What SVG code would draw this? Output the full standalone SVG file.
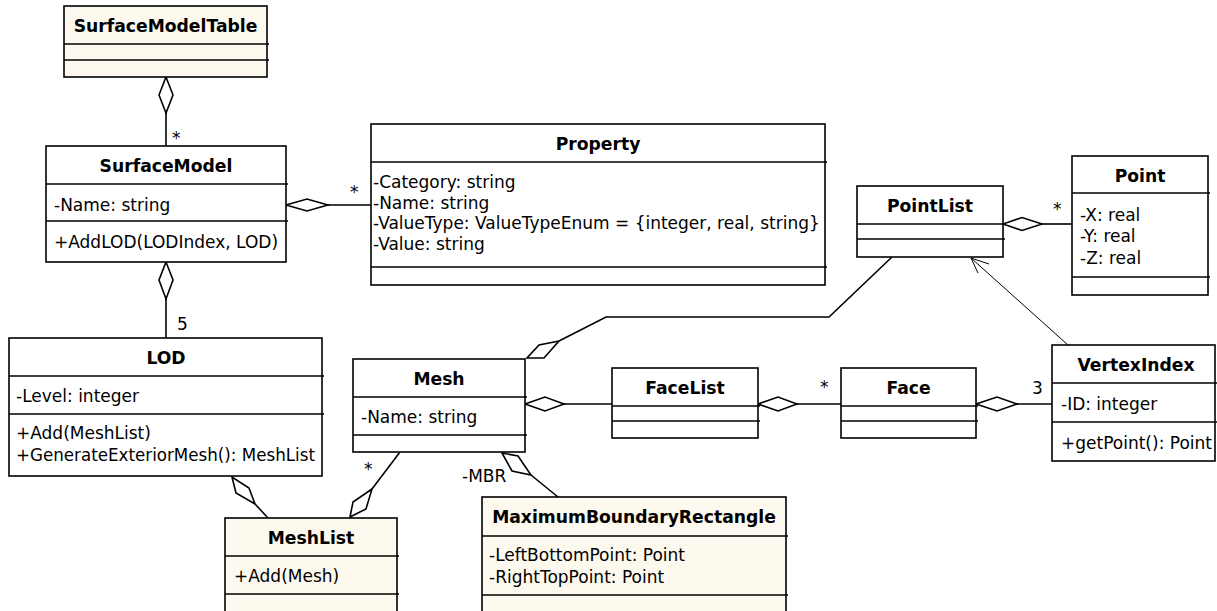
<svg xmlns="http://www.w3.org/2000/svg" width="1217" height="611" viewBox="0 0 1217 611">
<style>
.box{fill:#ffffff;stroke:#000;stroke-width:1.6}
.cream{fill:#fdf9ee}
.div{stroke:#000;stroke-width:1.6}
.t{font-family:"DejaVu Sans",Verdana,sans-serif;font-size:17px;fill:#000}
.b{font-weight:bold;text-anchor:middle;font-size:17.2px}
.ln{fill:none;stroke:#000;stroke-width:1.6}
.dia{fill:#fff;stroke:#000;stroke-width:1.6;stroke-linejoin:miter}
.thin{fill:none;stroke:#000;stroke-width:1}
</style>
<rect width="1217" height="611" fill="#fff"/>
<g id="connectors">
  <line class="ln" x1="166" y1="113" x2="166" y2="146"/>
  <polygon class="dia" points="166,77 173,95 166,113 159,95"/>
  <line class="ln" x1="328" y1="205" x2="371" y2="205"/>
  <polygon class="dia" points="286,205 307,199 328,205 307,211"/>
  <line class="ln" x1="166" y1="299" x2="166" y2="338"/>
  <polygon class="dia" points="166,262 173,280 166,299 159,280"/>
  <line class="ln" x1="1042" y1="224" x2="1072" y2="224"/>
  <polygon class="dia" points="1003,224 1022,217.5 1042,224 1022,230.5"/>
  <line class="ln" x1="564" y1="404" x2="612" y2="404"/>
  <polygon class="dia" points="525,404 545,397 564,404 545,411"/>
  <line class="ln" x1="797" y1="404" x2="841" y2="404"/>
  <polygon class="dia" points="758,404 778,397 797,404 778,411"/>
  <line class="ln" x1="1017" y1="404" x2="1052" y2="404"/>
  <polygon class="dia" points="976,404 997,397 1017,404 997,411"/>
  <line class="ln" x1="255" y1="504" x2="268" y2="518"/>
  <polygon class="dia" points="232,477 236,493 255,504 249,488"/>
  <line class="ln" x1="400" y1="452" x2="372" y2="489"/>
  <polygon class="dia" points="372,489 353,502 350,517 366,509"/>
  <polyline class="ln" points="892,257 829,317 606,317 559,341"/>
  <polygon class="dia" points="559,341 539,345 527,358 544,358"/>
  <line class="ln" x1="531" y1="475" x2="558" y2="497"/>
  <polygon class="dia" points="502,453 518,456 531,475 512,471"/>
  <line class="thin" x1="1068" y1="345" x2="971" y2="258"/>
  <polyline class="thin" points="989,264 971,258 978,273"/>
  <text class="t" x="172" y="144">*</text>
  <text class="t" x="350" y="198">*</text>
  <text class="t" x="177" y="330">5</text>
  <text class="t" x="1053" y="215">*</text>
  <text class="t" x="820" y="393">*</text>
  <text class="t" x="1032" y="394">3</text>
  <text class="t" x="364" y="475">*</text>
  <text class="t" x="462" y="482">-MBR</text>
</g>
<g id="SurfaceModelTable">
  <rect class="box cream" x="64" y="6" width="203" height="71"/>
  <line class="div" x1="64" y1="44" x2="269" y2="44"/>
  <line class="div" x1="64" y1="60" x2="269" y2="60"/>
  <text class="t b" x="165.5" y="32">SurfaceModelTable</text>
</g>
<g id="SurfaceModel">
  <rect class="box" x="46" y="146" width="240" height="116"/>
  <line class="div" x1="46" y1="184" x2="288" y2="184"/>
  <line class="div" x1="46" y1="221" x2="288" y2="221"/>
  <text class="t b" x="166" y="172">SurfaceModel</text>
  <text class="t" x="54" y="211">-Name: string</text>
  <text class="t" x="54" y="248">+AddLOD(LODIndex, LOD)</text>
</g>
<g id="Property">
  <rect class="box" x="371" y="124" width="454" height="161"/>
  <line class="div" x1="371" y1="162" x2="827" y2="162"/>
  <line class="div" x1="371" y1="267" x2="827" y2="267"/>
  <text class="t b" x="598" y="150">Property</text>
  <text class="t" x="373" y="188">-Category: string</text>
  <text class="t" x="373" y="208.5">-Name: string</text>
  <text class="t" x="373" y="229">-ValueType: ValueTypeEnum = {integer, real, string}</text>
  <text class="t" x="373" y="249.5">-Value: string</text>
</g>
<g id="PointList">
  <rect class="box" x="857" y="186" width="146" height="71"/>
  <line class="div" x1="857" y1="224" x2="1005" y2="224"/>
  <line class="div" x1="857" y1="239" x2="1005" y2="239"/>
  <text class="t b" x="930" y="212">PointList</text>
</g>
<g id="Point">
  <rect class="box" x="1072" y="156" width="136" height="139"/>
  <line class="div" x1="1072" y1="193" x2="1210" y2="193"/>
  <line class="div" x1="1072" y1="277" x2="1210" y2="277"/>
  <text class="t b" x="1140" y="182">Point</text>
  <text class="t" x="1080" y="221">-X: real</text>
  <text class="t" x="1080" y="242">-Y: real</text>
  <text class="t" x="1080" y="264">-Z: real</text>
</g>
<g id="LOD">
  <rect class="box" x="9" y="338" width="313" height="138"/>
  <line class="div" x1="9" y1="376" x2="324" y2="376"/>
  <line class="div" x1="9" y1="414" x2="324" y2="414"/>
  <text class="t b" x="166" y="364">LOD</text>
  <text class="t" x="16" y="402">-Level: integer</text>
  <text class="t" x="16" y="439">+Add(MeshList)</text>
  <text class="t" x="16" y="461" textLength="299" lengthAdjust="spacingAndGlyphs">+GenerateExteriorMesh(): MeshList</text>
</g>
<g id="Mesh">
  <rect class="box" x="353" y="359" width="172" height="93"/>
  <line class="div" x1="353" y1="397" x2="527" y2="397"/>
  <line class="div" x1="353" y1="435" x2="527" y2="435"/>
  <text class="t b" x="439" y="385">Mesh</text>
  <text class="t" x="361" y="423">-Name: string</text>
</g>
<g id="FaceList">
  <rect class="box" x="612" y="368" width="146" height="70"/>
  <line class="div" x1="612" y1="406" x2="760" y2="406"/>
  <line class="div" x1="612" y1="421" x2="760" y2="421"/>
  <text class="t b" x="685" y="394">FaceList</text>
</g>
<g id="Face">
  <rect class="box" x="841" y="368" width="135" height="70"/>
  <line class="div" x1="841" y1="406" x2="978" y2="406"/>
  <line class="div" x1="841" y1="421" x2="978" y2="421"/>
  <text class="t b" x="908.5" y="394">Face</text>
</g>
<g id="VertexIndex">
  <rect class="box" x="1052" y="345" width="163" height="116"/>
  <line class="div" x1="1052" y1="383" x2="1217" y2="383"/>
  <line class="div" x1="1052" y1="422" x2="1217" y2="422"/>
  <text class="t b" x="1136" y="371">VertexIndex</text>
  <text class="t" x="1061" y="410">-ID: integer</text>
  <text class="t" x="1061" y="449">+getPoint(): Point</text>
</g>
<g id="MeshList">
  <rect class="box cream" x="225" y="518" width="172" height="96"/>
  <line class="div" x1="225" y1="556" x2="399" y2="556"/>
  <line class="div" x1="225" y1="594" x2="399" y2="594"/>
  <text class="t b" x="311" y="544">MeshList</text>
  <text class="t" x="234" y="582">+Add(Mesh)</text>
</g>
<g id="MaximumBoundaryRectangle">
  <rect class="box cream" x="482" y="497" width="304" height="117"/>
  <line class="div" x1="482" y1="536" x2="788" y2="536"/>
  <line class="div" x1="482" y1="595" x2="788" y2="595"/>
  <text class="t b" x="634" y="523">MaximumBoundaryRectangle</text>
  <text class="t" x="489" y="561">-LeftBottomPoint: Point</text>
  <text class="t" x="489" y="583">-RightTopPoint: Point</text>
</g>
</svg>
